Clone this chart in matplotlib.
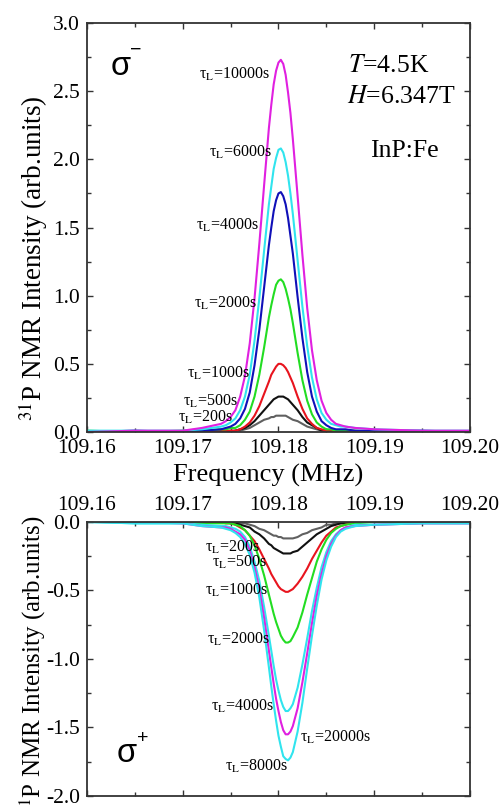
import numpy as np
import matplotlib
matplotlib.use('Agg')
import matplotlib.pyplot as plt
from matplotlib.ticker import MultipleLocator, FormatStrFormatter

plt.rcParams['font.family'] = ['Liberation Serif', 'DejaVu Serif']
plt.rcParams['mathtext.fontset'] = 'stix'
plt.rcParams['axes.unicode_minus'] = False

# frequency grid (MHz), finer near the line
freq = [109.160, 109.165, 109.170, 109.172, 109.174, 109.1745, 109.175, 109.1755,
        109.176, 109.1765, 109.177, 109.1775, 109.178, 109.1785,
        109.179, 109.17925, 109.1795, 109.17975, 109.180, 109.18025, 109.1805,
        109.18075, 109.181, 109.18125, 109.1815,
        109.182, 109.1825, 109.183, 109.1835, 109.184, 109.1845, 109.185, 109.1855,
        109.186, 109.1865, 109.187, 109.188, 109.190, 109.195, 109.200]

# sigma- spectra
top_200 = [0.00, 0.00, 0.00, 0.00, 0.00, 0.00, 0.01, 0.01, 0.01, 0.02, 0.03, 0.05, 0.07, 0.09,
           0.10, 0.11, 0.11, 0.12, 0.12, 0.12, 0.12, 0.12, 0.11, 0.10, 0.09,
           0.08, 0.06, 0.04, 0.03, 0.02, 0.01, 0.01, 0.00, 0.00, 0.00, 0.00, 0.00, 0.00, 0.00, 0.00]
top_500 = [0.00, 0.00, 0.00, 0.00, 0.00, 0.00, 0.00, 0.01, 0.02, 0.03, 0.05, 0.08, 0.12, 0.16,
           0.20, 0.22, 0.24, 0.25, 0.26, 0.26, 0.26, 0.25, 0.24, 0.22, 0.20,
           0.16, 0.11, 0.07, 0.05, 0.03, 0.01, 0.01, 0.00, 0.00, 0.00, 0.00, 0.00, 0.00, 0.00, 0.00]
top_1000 = [0.00, 0.00, 0.00, 0.00, 0.01, 0.01, 0.01, 0.01, 0.02, 0.04, 0.07, 0.12, 0.19, 0.28,
            0.37, 0.42, 0.45, 0.48, 0.50, 0.50, 0.49, 0.47, 0.44, 0.40, 0.36,
            0.26, 0.17, 0.10, 0.06, 0.03, 0.02, 0.01, 0.01, 0.00, 0.00, 0.00, 0.00, 0.00, 0.00, 0.00]
top_2000 = [0.01, 0.00, 0.01, 0.01, 0.02, 0.02, 0.03, 0.03, 0.05, 0.09, 0.15, 0.26, 0.42, 0.62,
            0.84, 0.93, 1.01, 1.08, 1.11, 1.12, 1.10, 1.05, 0.98, 0.90, 0.80,
            0.58, 0.38, 0.23, 0.13, 0.07, 0.04, 0.02, 0.02, 0.01, 0.01, 0.01, 0.01, 0.00, 0.00, 0.00]
top_4000 = [0.00, 0.01, 0.00, 0.01, 0.02, 0.03, 0.04, 0.06, 0.10, 0.17, 0.29, 0.49, 0.75, 1.06,
            1.37, 1.50, 1.62, 1.70, 1.75, 1.76, 1.73, 1.67, 1.57, 1.44, 1.31,
            0.99, 0.69, 0.44, 0.26, 0.15, 0.08, 0.05, 0.03, 0.02, 0.02, 0.02, 0.01, 0.01, 0.01, 0.00]
top_6000 = [0.01, 0.01, 0.01, 0.02, 0.04, 0.05, 0.07, 0.10, 0.16, 0.26, 0.42, 0.67, 0.98, 1.33,
            1.67, 1.80, 1.93, 2.01, 2.07, 2.08, 2.05, 1.98, 1.88, 1.75, 1.60,
            1.26, 0.92, 0.63, 0.40, 0.24, 0.14, 0.09, 0.06, 0.05, 0.04, 0.04, 0.03, 0.02, 0.01, 0.01]
top_10000 = [0.00, 0.01, 0.01, 0.03, 0.06, 0.08, 0.11, 0.16, 0.26, 0.41, 0.65, 0.98, 1.38, 1.81,
             2.23, 2.40, 2.55, 2.65, 2.71, 2.73, 2.70, 2.62, 2.49, 2.34, 2.15,
             1.73, 1.30, 0.91, 0.60, 0.38, 0.23, 0.14, 0.09, 0.06, 0.05, 0.04, 0.03, 0.02, 0.01, 0.01]

# sigma+ spectra
bot_200 = [0.00, 0.00, 0.00, 0.00, 0.00, 0.00, 0.00, 0.00, -0.01, -0.01, -0.02, -0.03, -0.05, -0.06,
           -0.08, -0.09, -0.10, -0.10, -0.11, -0.11, -0.12, -0.12, -0.12, -0.12, -0.12,
           -0.11, -0.09, -0.08, -0.06, -0.05, -0.04, -0.02, -0.02, -0.01, -0.01, 0.00, 0.00, 0.00, 0.00, 0.00]
bot_500 = [0.00, 0.00, 0.00, 0.00, 0.00, 0.00, -0.01, -0.01, -0.02, -0.03, -0.04, -0.07, -0.09, -0.12,
           -0.16, -0.17, -0.19, -0.20, -0.21, -0.22, -0.23, -0.23, -0.23, -0.23, -0.22,
           -0.21, -0.18, -0.15, -0.12, -0.09, -0.07, -0.05, -0.03, -0.02, -0.01, -0.01, 0.00, 0.00, 0.00, 0.00]
bot_1000 = [0.00, 0.00, 0.00, 0.00, 0.00, -0.01, -0.01, -0.02, -0.04, -0.06, -0.10, -0.14, -0.20, -0.27,
            -0.34, -0.38, -0.41, -0.44, -0.47, -0.49, -0.50, -0.51, -0.51, -0.50, -0.49,
            -0.45, -0.40, -0.34, -0.27, -0.21, -0.15, -0.10, -0.07, -0.04, -0.03, -0.02, 0.00, 0.00, 0.00, 0.00]
bot_2000 = [0.00, 0.00, 0.00, -0.01, -0.01, -0.01, -0.01, -0.02, -0.03, -0.06, -0.10, -0.17, -0.27, -0.39,
            -0.53, -0.60, -0.67, -0.73, -0.78, -0.83, -0.86, -0.88, -0.88, -0.87, -0.84,
            -0.77, -0.66, -0.53, -0.41, -0.29, -0.20, -0.13, -0.08, -0.05, -0.03, -0.02, -0.01, 0.00, 0.00, 0.00]
bot_4000 = [0.00, -0.01, -0.01, -0.02, -0.03, -0.03, -0.04, -0.05, -0.07, -0.11, -0.18, -0.29, -0.43, -0.62,
            -0.83, -0.94, -1.05, -1.15, -1.23, -1.30, -1.35, -1.38, -1.38, -1.36, -1.33,
            -1.21, -1.04, -0.85, -0.65, -0.48, -0.33, -0.22, -0.14, -0.09, -0.06, -0.04, -0.02, -0.02, -0.01, -0.01]
bot_20000 = [0.00, 0.00, -0.01, -0.03, -0.04, -0.04, -0.05, -0.07, -0.09, -0.13, -0.21, -0.33, -0.49, -0.70,
             -0.94, -1.06, -1.18, -1.29, -1.38, -1.46, -1.52, -1.55, -1.55, -1.53, -1.49,
             -1.36, -1.17, -0.96, -0.74, -0.54, -0.38, -0.25, -0.16, -0.10, -0.06, -0.04, -0.03, -0.02, -0.01, -0.01]
bot_8000 = [0.00, -0.01, -0.01, -0.03, -0.04, -0.05, -0.06, -0.08, -0.11, -0.16, -0.24, -0.37, -0.55, -0.79,
            -1.06, -1.20, -1.33, -1.45, -1.56, -1.64, -1.71, -1.73, -1.74, -1.72, -1.68,
            -1.53, -1.32, -1.07, -0.83, -0.61, -0.42, -0.28, -0.18, -0.11, -0.07, -0.05, -0.03, -0.02, -0.01, -0.01]

GRAY, BLACK, RED, GREEN = '#606060', '#111111', '#e8141e', '#22dd22'
BLUE, CYAN, MAG = '#1010b8', '#30e4ee', '#e020e0'

top_series = [(top_200, GRAY), (top_500, BLACK), (top_1000, RED), (top_2000, GREEN),
              (top_4000, BLUE), (top_6000, CYAN), (top_10000, MAG)]
bot_series = [(bot_200, GRAY), (bot_500, BLACK), (bot_1000, RED), (bot_2000, GREEN),
              (bot_4000, CYAN), (bot_20000, MAG), (bot_8000, CYAN)]

# label text, x, y (data), alignment
top_labels = [('10000s', 109.17911, 2.589, 'right'), ('6000s', 109.17932, 2.017, 'right'),
              ('4000s', 109.17796, 1.482, 'right'), ('2000s', 109.17775, 0.910, 'right'),
              ('1000s', 109.17702, 0.396, 'right'), ('500s', 109.17577, 0.191, 'right'),
              ('200s', 109.17525, 0.073, 'right')]
bot_labels = [('200s', 109.17806, -0.219, 'right'), ('500s', 109.17879, -0.328, 'right'),
              ('1000s', 109.17890, -0.533, 'right'), ('2000s', 109.17911, -0.891, 'right'),
              ('4000s', 109.17952, -1.380, 'right'), ('20000s', 109.18224, -1.606, 'left'),
              ('8000s', 109.18098, -1.818, 'right')]

fig = plt.figure(figsize=(4.99, 8.08), dpi=100)
ax1 = fig.add_axes([0.1743, 0.4653, 0.7675, 0.5062])
ax2 = fig.add_axes([0.1743, 0.0149, 0.7675, 0.3391])

for y, c in top_series:
    ax1.plot(freq, y, color=c, lw=1.5)
for y, c in bot_series:
    ax2.plot(freq, y, color=c, lw=1.5)

for ax in (ax1, ax2):
    ax.set_xlim(109.16, 109.20)
    ax.xaxis.set_major_locator(MultipleLocator(0.01))
    ax.xaxis.set_minor_locator(MultipleLocator(0.005))
    ax.xaxis.set_major_formatter(FormatStrFormatter('%.2f'))
    ax.yaxis.set_major_locator(MultipleLocator(0.5))
    ax.yaxis.set_minor_locator(MultipleLocator(0.25))
    ax.yaxis.set_major_formatter(FormatStrFormatter('%.1f'))
    ax.tick_params(which='both', direction='in', top=True, right=True,
                   labelsize=15.5, width=1.0, color='#333333')
    ax.tick_params(which='major', length=4.5, pad=5)
    ax.tick_params(which='minor', length=3)
    for s in ax.spines.values():
        s.set_linewidth(1.3)
        s.set_color('#333333')

ax1.set_ylim(0, 3.0)
ax2.set_ylim(-2.0, 0.0)
ax2.tick_params(labeltop=True, labelbottom=False)

for txt, x, y, ha in top_labels:
    ax1.text(x, y, 'τ$_{\\mathrm{L}}$=' + txt, fontsize=11.5, ha=ha, va='baseline')
for txt, x, y, ha in bot_labels:
    ax2.text(x, y, 'τ$_{\\mathrm{L}}$=' + txt, fontsize=11.5, ha=ha, va='baseline')

ax1.text(0.0888, 0.8729, 'σ', family='Liberation Sans', fontsize=23.5,
         ha='center', va='baseline', transform=ax1.transAxes)
ax1.text(0.128, 0.923, '\u2212', family='Liberation Sans', fontsize=14,
         ha='center', va='baseline', transform=ax1.transAxes)
ax2.text(0.1044, 0.124, 'σ', family='Liberation Sans', fontsize=23.5,
         ha='center', va='baseline', transform=ax2.transAxes)
ax2.text(0.1462, 0.195, '+', family='Liberation Sans', fontsize=14,
         ha='center', va='baseline', transform=ax2.transAxes)

ax1.text(0.6815, 0.880, '$T$=4.5K', fontsize=18.5, transform=ax1.transAxes)
ax1.text(0.679, 0.8044, '$H$=6.347T', fontsize=18.5, transform=ax1.transAxes)
ax1.text(0.739, 0.672, 'InP:Fe', fontsize=18.5, transform=ax1.transAxes)

fig.text(0.537, 0.4035, 'Frequency (MHz)', fontsize=19, ha='center', va='baseline')
ylab = '$^{31}$P NMR Intensity (arb.units)'
fig.text(0.066, 0.680, ylab, fontsize=19.5, rotation=90, ha='center', va='center')
# the lower panel's label runs off the bottom edge, as in the original
fig.text(0.066, 0.1757, ylab, fontsize=18, rotation=90, ha='center', va='center')

fig.savefig('out.png', dpi=100)
